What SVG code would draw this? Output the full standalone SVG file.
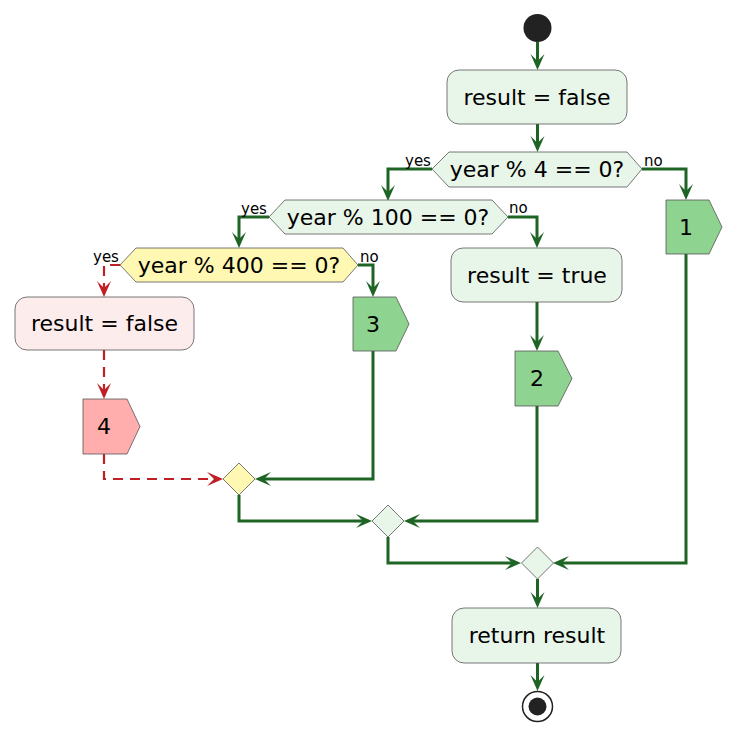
<svg xmlns="http://www.w3.org/2000/svg" width="751" height="736" viewBox="0 0 751 736">
<defs>
<style>
.t{font-family:"DejaVu Sans",sans-serif;font-size:22px;fill:#000;text-anchor:middle}
.l{font-family:"DejaVu Sans",sans-serif;font-size:15px;fill:#000}
.act{fill:#E8F5E9;stroke:#555;stroke-width:0.8}
.pinkact{fill:#FDECEC;stroke:#555;stroke-width:0.8}
.dec{fill:#E8F5E9;stroke:#555;stroke-width:0.8}
.ydec{fill:#FFF8B3;stroke:#555;stroke-width:0.8}
.gbox{fill:#8ED38F;stroke:#555;stroke-width:0.8}
.rbox{fill:#FFADAD;stroke:#555;stroke-width:0.8}
.cg{fill:none;stroke:#1E6424;stroke-width:3;marker-end:url(#ag)}
.cr{fill:none;stroke:#BF2026;stroke-width:2.2;stroke-dasharray:10 7;marker-end:url(#ar)}
</style>
<marker id="ag" viewBox="-17 -8 18 16" refX="-5" refY="0" markerWidth="18" markerHeight="16" markerUnits="userSpaceOnUse" orient="auto">
<path d="M0,0 L-16,-7 L-9,0 L-16,7 Z" fill="#1E6424"/>
</marker>
<marker id="ar" viewBox="-17 -8 18 16" refX="-5" refY="0" markerWidth="18" markerHeight="16" markerUnits="userSpaceOnUse" orient="auto">
<path d="M0,0 L-16,-7 L-9,0 L-16,7 Z" fill="#BF2026"/>
</marker>
</defs>
<rect width="751" height="736" fill="#fff"/>
<g id="connectors">
<path class="cg" d="M537.5,42 V65"/>
<path class="cg" d="M537.5,124 V147"/>
<path class="cg" d="M432,169 H388 V196"/>
<path class="cg" d="M642,169 H686 V195"/>
<path class="cg" d="M269,217 H239 V243"/>
<path class="cg" d="M508,217 H537 V243"/>
<path class="cr" d="M120,265 H104 V292"/>
<path class="cg" d="M358,265 H373 V292"/>
<path class="cr" d="M104,350 V394"/>
<path class="cr" d="M104,454 V479 H218"/>
<path class="cg" d="M373,351 V479 H260"/>
<path class="cg" d="M537,302 V346"/>
<path class="cg" d="M239,495 V521 H367"/>
<path class="cg" d="M537,406 V521 H409"/>
<path class="cg" d="M388,537 V563 H516"/>
<path class="cg" d="M686,254 V563 H558"/>
<path class="cg" d="M537.5,579 V603"/>
<path class="cg" d="M537.5,663 V686"/>
</g>
<g id="start"><circle cx="537.5" cy="28" r="14" fill="#222"/></g>
<g id="init"><rect class="act" x="447" y="70" width="180" height="54" rx="12"/><text class="t" x="537" y="105">result = false</text></g>
<g id="d4"><polygon class="dec" points="432,169 449,152 627,152 642,169 627,187 449,187"/><text class="t" x="537" y="177">year % 4 == 0?</text>
<text class="l" x="405" y="166">yes</text><text class="l" x="644" y="166">no</text></g>
<g id="d100"><polygon class="dec" points="269,217 285,200 492,200 508,217 492,234 285,234"/><text class="t" x="388" y="225">year % 100 == 0?</text>
<text class="l" x="241" y="214">yes</text><text class="l" x="509" y="213">no</text></g>
<g id="d400"><polygon class="ydec" points="120,265 136,248 343,248 358,265 343,282 136,282"/><text class="t" x="239" y="273">year % 400 == 0?</text>
<text class="l" x="93" y="262">yes</text><text class="l" x="360" y="262">no</text></g>
<g id="b1"><polygon class="gbox" points="666,200 709,200 722,227 709,254 666,254"/><text class="t" x="686" y="235">1</text></g>
<g id="rtrue"><rect class="act" x="451" y="248" width="171" height="54" rx="12"/><text class="t" x="537" y="283">result = true</text></g>
<g id="b2"><polygon class="gbox" points="515,351 558,351 572,378.5 558,406 515,406"/><text class="t" x="537" y="386">2</text></g>
<g id="rfalse"><rect class="pinkact" x="15" y="297" width="179" height="53" rx="12"/><text class="t" x="104.5" y="331">result = false</text></g>
<g id="b3"><polygon class="gbox" points="353,297 396,297 409,324 396,351 353,351"/><text class="t" x="373" y="332">3</text></g>
<g id="b4"><polygon class="rbox" points="83,399 127,399 140,426.5 127,454 83,454"/><text class="t" x="104" y="434">4</text></g>
<g id="m1"><polygon class="ydec" points="239,463 255,479 239,495 223,479"/></g>
<g id="m2"><polygon class="dec" points="388,505 404,521 388,537 372,521"/></g>
<g id="m3"><polygon class="dec" points="537.5,547 553.5,563 537.5,579 521.5,563"/></g>
<g id="ret"><rect class="act" x="452" y="608" width="169" height="55" rx="12"/><text class="t" x="537" y="643">return result</text></g>
<g id="end"><circle cx="537.5" cy="706.5" r="15" fill="#fff" stroke="#222" stroke-width="1.5"/><circle cx="537.5" cy="706.5" r="9" fill="#222"/></g>
</svg>
